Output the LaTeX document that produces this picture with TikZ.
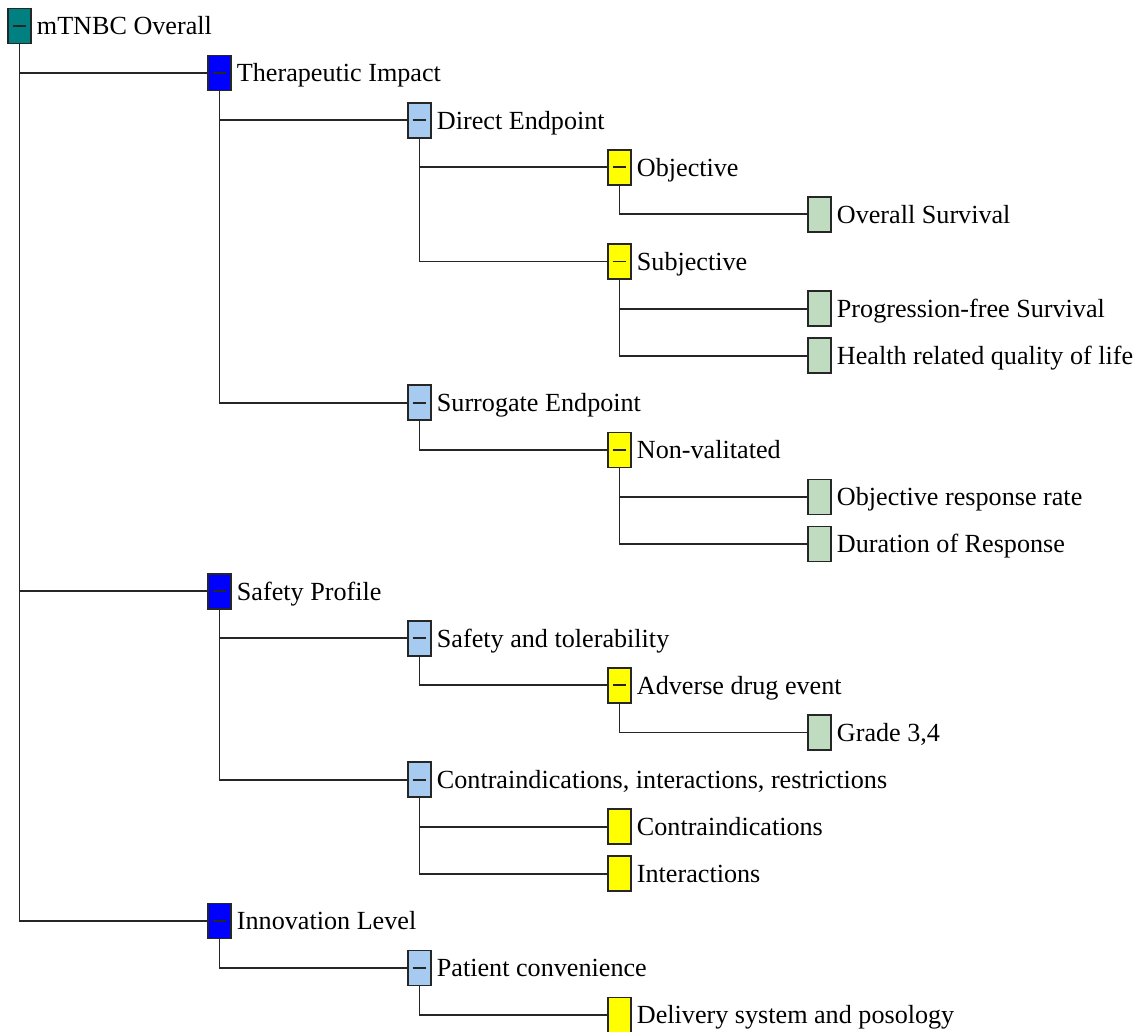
\documentclass[tikz,border=0pt]{standalone}
\usepackage{fontspec}
\setmainfont{Liberation Serif}
\usepackage{tikz}
\usetikzlibrary{positioning,calc}
\definecolor{cteal}{RGB}{0,128,128}
\definecolor{cblue}{RGB}{0,0,255}
\definecolor{csky}{RGB}{166,202,240}
\definecolor{cyel}{RGB}{255,255,0}
\definecolor{cmint}{RGB}{192,220,192}
\tikzset{
  bx/.style={rectangle,draw=black!85,minimum width=.575cm,minimum height=.875cm,inner sep=0pt,line width=1.2pt},
  mn/.style={path picture={\draw[line width=1.3pt] ([xshift=-.17cm]path picture bounding box.center) -- ([xshift=.17cm]path picture bounding box.center);}},
  lnk/.style={draw=black!85,line width=1.3pt},
  lb/.style={font=\fontsize{18.6}{22}\selectfont,inner sep=0pt},
}
\begin{document}
\begin{tikzpicture}[x=1cm,y=1cm]
\useasboundingbox (0,0) rectangle (28.425,-25.8);
% tree: name / level / row / fill / has children / text
\foreach \n/\l/\r/\c/\m/\t in {
    ov/0/0/cteal/mn/{mTNBC Overall},
    ti/1/1/cblue/mn/{Therapeutic Impact},
    de/2/2/csky/mn/{Direct Endpoint},
    obj/3/3/cyel/mn/{Objective},
    os/4/4/cmint//{Overall Survival},
    sub/3/5/cyel/mn/{Subjective},
    pfs/4/6/cmint//{Progression-free Survival},
    hq/4/7/cmint//{Health related quality of life},
    se/2/8/csky/mn/{Surrogate Endpoint},
    nv/3/9/cyel/mn/{Non-valitated},
    orr/4/10/cmint//{Objective response rate},
    dor/4/11/cmint//{Duration of Response},
    sp/1/12/cblue/mn/{Safety Profile},
    st/2/13/csky/mn/{Safety and tolerability},
    ade/3/14/cyel/mn/{Adverse drug event},
    g34/4/15/cmint//{Grade 3,4},
    cir/2/16/csky/mn/{Contraindications, interactions, restrictions},
    ci/3/17/cyel//{Contraindications},
    ia/3/18/cyel//{Interactions},
    il/1/19/cblue/mn/{Innovation Level},
    pc/2/20/csky/mn/{Patient convenience},
    ds/3/21/cyel//{Delivery system and posology}}{
  \node[bx,fill=\c,\m] (\n) at (\l*5+0.4875,-0.65-\r*1.1775) {};
  \node[lb,anchor=base west] (\n-t) at ([xshift=.12cm,yshift=-.22cm]\n.east) {\t};
}
% connectors, parent -> child
\foreach \p/\q in {ov/ti,ov/sp,ov/il,
                   ti/de,ti/se,de/obj,de/sub,obj/os,sub/pfs,sub/hq,
                   se/nv,nv/orr,nv/dor,
                   sp/st,sp/cir,st/ade,ade/g34,cir/ci,cir/ia,
                   il/pc,pc/ds}{
  \draw[lnk] (\p.south) |- (\q.west);
}
\end{tikzpicture}
\end{document}
